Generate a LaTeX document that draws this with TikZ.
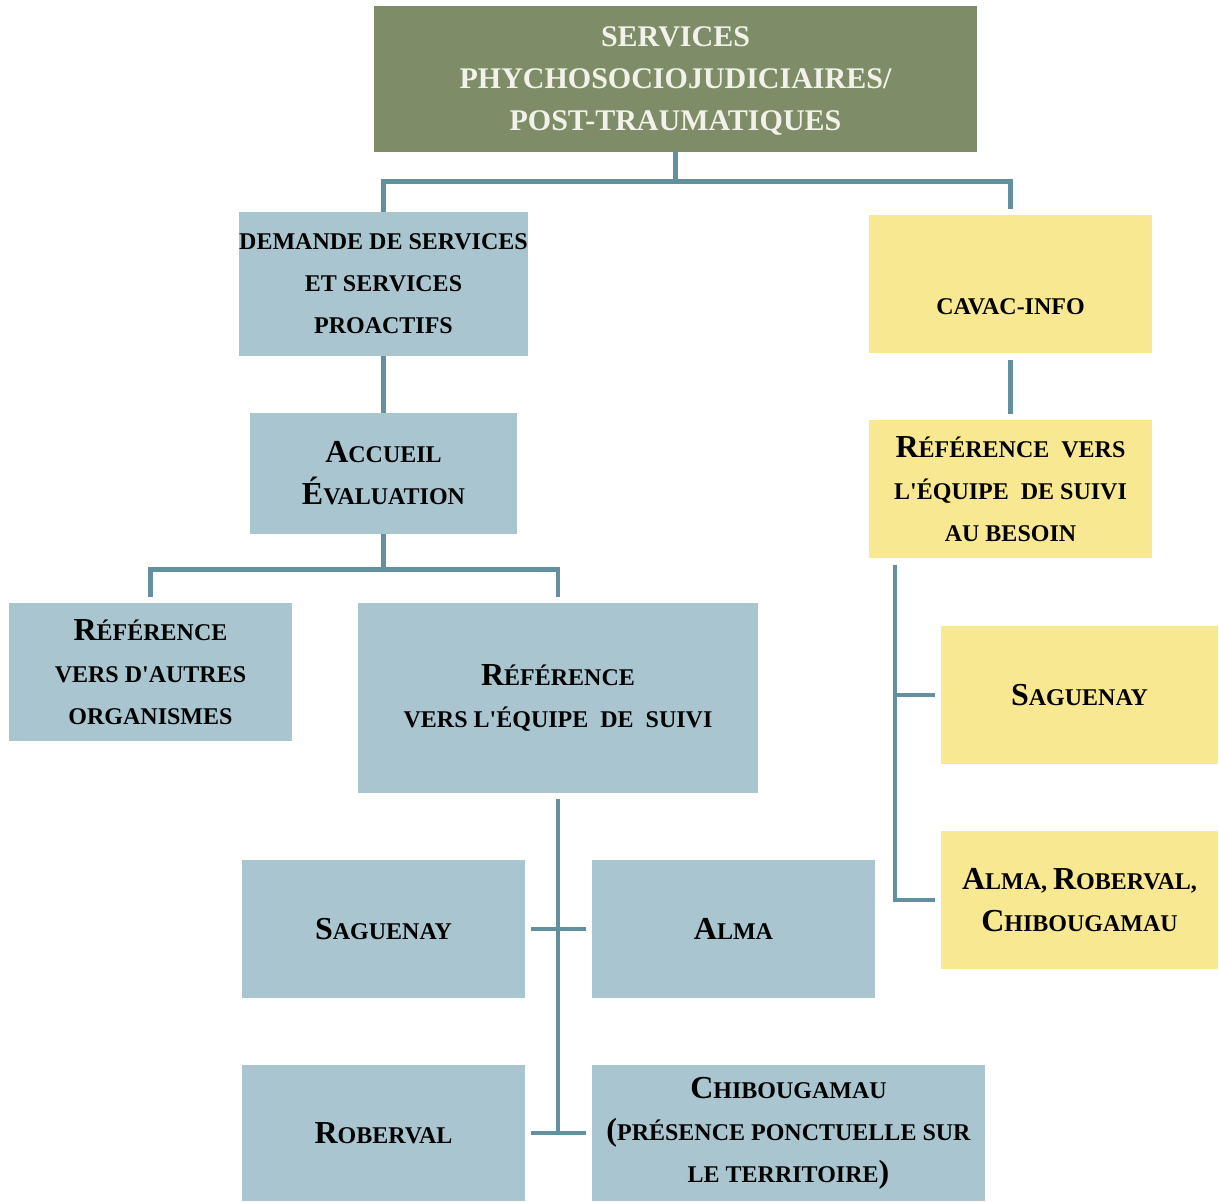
\documentclass[tikz,border=0pt]{standalone}
\usepackage{fontspec}
\setmainfont{Liberation Serif}
\definecolor{vertolive}{HTML}{7F8C68}
\definecolor{bleugris}{HTML}{A9C6D0}
\definecolor{jaunepale}{HTML}{F8E891}
\definecolor{trait}{HTML}{62909F}
\definecolor{blanccasse}{HTML}{F2F2EA}
\newcommand\grand[1]{{\fontsize{16}{21}\selectfont #1}}
\newcommand\apos{\textquotesingle}
\begin{document}
\begin{tikzpicture}[x=0.5pt,y=-0.5pt,
 boite/.style={inner sep=0pt, align=center, font=\fontsize{12}{21}\selectfont\bfseries},
 bleu/.style={boite, fill=bleugris, minimum width=141.5pt, minimum height=69pt},
 jaune/.style={boite, fill=jaunepale, minimum width=141.5pt, minimum height=69pt},
 lien/.style={draw=trait, line width=2.4pt}]
 \useasboundingbox (0,0) rectangle (1219,1201);
 % haut
 \node[boite, fill=vertolive, text=blanccasse, font=\fontsize{15}{21}\selectfont\bfseries,
   minimum width=301.5pt, minimum height=73pt] (titre) at (675.5,79)
   {\rule{0pt}{12pt}SERVICES\\PHYCHOSOCIOJUDICIAIRES/\\POST-TRAUMATIQUES};
 % colonne de gauche
 \node[bleu, minimum width=144.5pt, minimum height=72pt] (demande) at (383.5,284)
   {DEMANDE DE SERVICES\\ET SERVICES\\PROACTIFS};
 \node[bleu, minimum width=133.5pt, minimum height=60.5pt] (accueil) at (383.5,473.5)
   {\grand{A}CCUEIL\\\grand{É}VALUATION};
 \node[bleu] (autres) at (150.5,672) {\grand{R}ÉFÉRENCE\\VERS D\apos AUTRES\\ORGANISMES};
 \node[bleu, minimum width=200pt, minimum height=95pt] (suivi) at (558,698)
   {\grand{R}ÉFÉRENCE\\VERS L\apos ÉQUIPE~~DE~~SUIVI};
 \node[bleu] (saguenay) at (383.5,929) {\grand{S}AGUENAY};
 \node[bleu] (alma) at (733.5,929) {\grand{A}LMA};
 \node[bleu, minimum height=68pt] (roberval) at (383.5,1133) {\grand{R}OBERVAL};
 \node[bleu, minimum width=196.5pt, minimum height=68pt] (chibougamau) at (788.5,1133)
   {\grand{C}HIBOUGAMAU\\\grand{(}PRÉSENCE PONCTUELLE SUR\\LE TERRITOIRE\grand{)}};
 % colonne de droite
 \node[jaune] (cavac) at (1010.5,284) {\rule{0pt}{10pt}\\CAVAC-INFO};
 \node[jaune] (refcavac) at (1010.5,489) {\grand{R}ÉFÉRENCE~~VERS\\L\apos ÉQUIPE~~DE SUIVI\\AU BESOIN};
 \node[jaune, minimum width=138.5pt] (saguenayj) at (1079.5,695) {\grand{S}AGUENAY};
 \node[jaune, minimum width=138.5pt] (almaj) at (1079.5,900)
   {\grand{A}LMA, \grand{R}OBERVAL,\\\grand{C}HIBOUGAMAU};
 % liens
 \draw[lien] (titre.south) -- ++(0,-14.5pt) coordinate (branche1) -| (demande.north);
 \draw[lien, shorten >=3pt] (branche1) -| (cavac.north);
 \draw[lien] (demande) -- (accueil);
 \draw[lien] (accueil.south) -- ++(0,-17.5pt) coordinate (branche2) -| ([yshift=3pt]autres.north);
 \draw[lien] (branche2) -| ([yshift=3pt]suivi.north);
 \draw[lien, shorten <=3pt] (suivi.south) -- (suivi.south |- roberval.center);
 \draw[lien, shorten <=3pt, shorten >=3pt] (saguenay) -- (alma);
 \draw[lien, shorten <=3pt, shorten >=3pt] (roberval) -- (chibougamau);
 \draw[lien, shorten <=3.5pt, shorten >=3pt] (cavac) -- (refcavac);
 \coordinate (crochet) at (895,565);
 \draw[lien] (crochet) |- ([xshift=-3pt]almaj.west);
 \draw[lien] (crochet |- saguenayj.west) -- ([xshift=-3pt]saguenayj.west);
\end{tikzpicture}
\end{document}
